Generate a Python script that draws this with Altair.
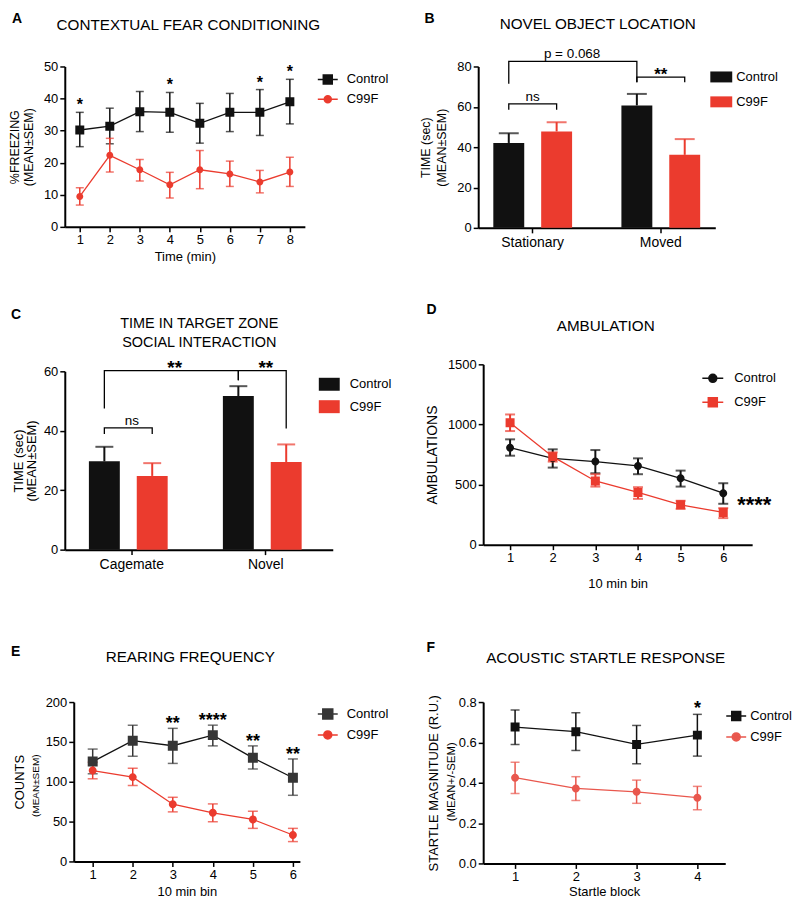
import altair as alt
import pandas as pd

FONT = "Liberation Sans"
BLACK = "#111111"
RED = "#eb3b2e"
RED_F = "#e9574d"
GRAY_E = "#363636"
GROUPS = ["Control", "C99F"]

# ---------------- data ----------------
# A: contextual fear conditioning
a_time = [1, 2, 3, 4, 5, 6, 7, 8]
a_ctrl = [30.2, 31.4, 35.9, 35.7, 32.3, 35.7, 35.7, 39.0]
a_ctrl_lo = [25.0, 25.9, 29.7, 29.5, 26.1, 29.7, 28.5, 32.1]
a_ctrl_hi = [35.7, 37.0, 42.2, 41.9, 38.5, 41.6, 42.8, 46.0]
a_c99 = [9.5, 22.3, 17.8, 13.1, 17.8, 16.5, 14.0, 17.1]
a_c99_lo = [6.8, 17.1, 14.3, 9.0, 11.9, 12.6, 10.6, 12.6]
a_c99_hi = [12.2, 27.6, 21.0, 17.0, 23.8, 20.5, 17.6, 21.7]
a_sig_x = [1, 4, 7, 8]
a_sig = ["*", "*", "*", "*"]

# B: novel object location
b_cats = ["Stationary", "Moved"]
b_ctrl = [42.1, 60.7]
b_ctrl_hi = [46.9, 66.4]
b_c99 = [47.8, 36.2]
b_c99_hi = [52.4, 44.0]
b_br_from = [("Stationary", "Control"), ("Moved", "Control"), ("Stationary", "Control")]
b_br_to = [("Stationary", "C99F"), ("Moved", "C99F"), ("Moved", "Control")]
b_br_top = [61.5, 74.7, 82.5]
b_br_left = [58.5, 72.2, 71.4]
b_br_right = [58.5, 72.2, 72.2]
b_br_label = ["ns", "**", "p = 0.068"]

# C: social interaction
c_cats = ["Cagemate", "Novel"]
c_ctrl = [29.7, 51.7]
c_ctrl_hi = [34.6, 55.0]
c_c99 = [24.8, 29.5]
c_c99_hi = [29.1, 35.4]
c_br_from = [("Cagemate", "Control"), ("Cagemate", "Control"), ("Novel", "Control")]
c_br_to = [("Cagemate", "C99F"), ("Novel", "Control"), ("Novel", "C99F")]
c_br_top = [41.0, 60.2, 60.2]
c_br_left = [38.9, 47.5, 57.0]
c_br_right = [38.9, 57.0, 40.8]
c_br_label = ["ns", "**", "**"]

# D: ambulation
d_bin = [1, 2, 3, 4, 5, 6]
d_ctrl = [807, 718, 691, 655, 552, 428]
d_ctrl_lo = [740, 641, 594, 586, 483, 340]
d_ctrl_hi = [876, 793, 787, 718, 616, 511]
d_c99 = [1014, 732, 530, 434, 331, 268]
d_c99_lo = [945, 691, 483, 381, 298, 221]
d_c99_hi = [1083, 768, 586, 478, 365, 304]
d_sig_x = [6]
d_sig_y = [348]
d_sig = ["****"]

# E: rearing frequency
e_bin = [1, 2, 3, 4, 5, 6]
e_ctrl = [125.3, 151.5, 145.2, 158.5, 130.0, 105.0]
e_ctrl_lo = [110, 132, 123, 145, 116, 83]
e_ctrl_hi = [141, 171, 167, 171, 145, 128.6]
e_c99 = [114, 105.8, 71.8, 61, 52.7, 33.2]
e_c99_lo = [103.7, 95.4, 62.2, 49.8, 41.5, 24.9]
e_c99_hi = [124.5, 117, 80.5, 72.2, 63, 41.5]
e_sig_x = [3, 4, 5, 6]
e_sig = ["**", "****", "**", "**"]

# F: acoustic startle
f_block = [1, 2, 3, 4]
f_ctrl = [0.676, 0.653, 0.590, 0.636]
f_ctrl_lo = [0.590, 0.560, 0.494, 0.532]
f_ctrl_hi = [0.760, 0.747, 0.684, 0.739]
f_c99 = [0.425, 0.372, 0.355, 0.326]
f_c99_lo = [0.347, 0.312, 0.298, 0.266]
f_c99_hi = [0.502, 0.430, 0.413, 0.382]
f_sig_x = [4]
f_sig = ["*"]

titles = {
    "A": ["CONTEXTUAL FEAR CONDITIONING"],
    "B": ["NOVEL OBJECT LOCATION"],
    "C": ["TIME IN TARGET ZONE", "SOCIAL INTERACTION"],
    "D": ["AMBULATION"],
    "E": ["REARING FREQUENCY"],
    "F": ["ACOUSTIC STARTLE RESPONSE"],
}


# ---------------- helpers ----------------
def sq(h):
    return f"M-1,0H1M-{h},-{h}H{h}V{h}H-{h}Z"


def circ(r):
    return f"M-1,0H1M{r},0A{r},{r} 0 1,1 -{r},0A{r},{r} 0 1,1 {r},0Z"


def rect(h):
    return f"M-1,-{h}H1V{h}H-1Z"


def text_layer(text, x, y, size, weight="normal", align="center", angle=0, baseline="alphabetic"):
    kw = dict(font=FONT, fontSize=size, fontWeight=weight, align=align,
              baseline=baseline, color="black")
    if angle:
        kw["angle"] = angle
    return alt.Chart(pd.DataFrame({"t": [text]})).mark_text(**kw).encode(
        text="t:N", x=alt.value(x), y=alt.value(y))


def long_df(x, cm, clo, chi, rm, rlo, rhi):
    rows = []
    for g, m, lo, hi in [("Control", cm, clo, chi), ("C99F", rm, rlo, rhi)]:
        for xi, mi, l, h in zip(x, m, lo, hi):
            rows.append(dict(group=g, x=xi, mean=mi, lo=l, hi=h))
    return pd.DataFrame(rows)


def line_panel(df, *, colors, shapes, size, x_domain, y_domain, x_ticks, y_ticks,
               y_format, x_title, x_title_pad, y_title, y_title_size, y_title_pad,
               cap, err_w, line_w, legend_x, legend_y, legend_rowpad, legend_laboff,
               y_title_lh=14, x_range=None, y_offset=0, line_colors=None):
    xs = dict(domain=x_domain, nice=False, zero=False)
    if x_range:
        xs["range"] = x_range
    x = alt.X("x:Q", scale=alt.Scale(**xs),
              axis=alt.Axis(values=x_ticks, format="d", title=x_title,
                            titlePadding=x_title_pad))
    yk = dict(values=y_ticks, format=y_format, title=y_title,
              titleFontSize=y_title_size, titlePadding=y_title_pad,
              titleLineHeight=y_title_lh)
    if y_offset:
        yk["offset"] = y_offset
    yax = alt.Axis(**yk)
    ysc = alt.Scale(domain=y_domain, nice=False, zero=False)

    def Y(f):
        return alt.Y(f"{f}:Q", scale=ysc, axis=yax)

    line_colors = line_colors or colors
    base = alt.Chart(df)
    errs, lines, pts = [], [], []
    for g, colr, lcol, shp in zip(GROUPS, colors, line_colors, shapes):
        b = base.transform_filter(alt.datum.group == g)
        errs.append(b.mark_rule(strokeWidth=err_w, color=colr).encode(
            x=x, y=Y("lo"), y2="hi:Q"))
        errs.append(b.mark_tick(orient="horizontal", size=cap, thickness=err_w,
                                color=colr).encode(x=x, y=Y("lo")))
        errs.append(b.mark_tick(orient="horizontal", size=cap, thickness=err_w,
                                color=colr).encode(x=x, y=Y("hi")))
        lines.append(b.mark_line(strokeWidth=line_w, color=lcol).encode(
            x=x, y=Y("mean")))
        pts.append(b.mark_point(filled=True, size=size, opacity=1, shape=shp,
                                color=colr, strokeWidth=0).encode(x=x, y=Y("mean")))
    cs = alt.Scale(domain=GROUPS, range=colors)
    ss = alt.Scale(domain=GROUPS, range=shapes)
    leg = alt.Legend(title=None, orient="none", legendX=legend_x, legendY=legend_y,
                     rowPadding=legend_rowpad, labelOffset=legend_laboff,
                     symbolSize=size, symbolStrokeWidth=1.5)
    legend_layer = base.transform_filter("false").mark_point(
        filled=True, size=size, opacity=1, strokeWidth=1.5).encode(
        x=x, y=Y("mean"),
        color=alt.Color("group:N", scale=cs, legend=leg),
        stroke=alt.Stroke("group:N", scale=cs, legend=leg),
        shape=alt.Shape("group:N", scale=ss, legend=leg))
    return errs + lines + pts + [legend_layer], x, Y


def sig_layer(xs, labels, df, x, Y, size, dy, y_vals=None, dx=0, align="center"):
    if y_vals is None:
        ctrl = df[df.group == "Control"].set_index("x")
        y_vals = [ctrl.loc[v, "hi"] for v in xs]
    sdf = pd.DataFrame({"x": xs, "hi": y_vals, "label": labels})
    return alt.Chart(sdf).mark_text(font=FONT, fontSize=size, fontWeight="bold", dy=dy,
                                     dx=dx, align=align, baseline="alphabetic",
                                     color="black").encode(
        x=x, y=Y("hi"), text="label:N")


def bar_panel(cats, cm, chi, rm, rhi, *, br_from, br_to, br_top, br_left, br_right,
              br_label, pad_in, pad_out, off_pad, y_domain, y_ticks, y_title,
              y_title_size, y_title_pad, y_title_lh, cap, legend_x, legend_y,
              legend_rowpad, legend_laboff, legend_h, legend_size, star_size,
              x_range=None, y_range=None, y_offset=0):
    rows = []
    for g, m, h in [("Control", cm, chi), ("C99F", rm, rhi)]:
        for c, mi, hi in zip(cats, m, h):
            rows.append(dict(cat=c, group=g, mean=mi, hi=hi))
    df = pd.DataFrame(rows)
    xs = dict(domain=cats, paddingInner=pad_in, paddingOuter=pad_out)
    if x_range:
        xs["range"] = x_range
    xaxis = alt.Axis(title=None, labelAngle=0, labelFontSize=14, labelPadding=3)
    x = alt.X("cat:N", scale=alt.Scale(**xs), axis=xaxis)
    xo = alt.XOffset("group:N", scale=alt.Scale(domain=GROUPS, paddingInner=off_pad,
                                                 paddingOuter=0))
    yk = dict(values=y_ticks, title=y_title, titleFontSize=y_title_size,
              titlePadding=y_title_pad, titleLineHeight=y_title_lh)
    if y_offset:
        yk["offset"] = y_offset
    yax = alt.Axis(**yk)
    ys = dict(domain=y_domain, nice=False, zero=True)
    if y_range:
        ys["range"] = y_range
    ysc = alt.Scale(**ys)

    def Y(f):
        return alt.Y(f"{f}:Q", scale=ysc, axis=yax)

    colors = [BLACK, RED]
    cs = alt.Scale(domain=GROUPS, range=colors)
    leg = alt.Legend(title=None, orient="none", legendX=legend_x, legendY=legend_y,
                     rowPadding=legend_rowpad, labelOffset=legend_laboff,
                     symbolType=rect(legend_h), symbolSize=legend_size,
                     symbolStrokeWidth=0)
    base = alt.Chart(df)
    bars = base.mark_bar().encode(x=x, xOffset=xo, y=Y("mean"),
                                  color=alt.Color("group:N", scale=cs, legend=leg))
    layers = [bars]
    for g, colr in zip(GROUPS, colors):
        b = base.transform_filter(alt.datum.group == g)
        layers.append(b.mark_rule(strokeWidth=2, color=colr).encode(
            x=x, xOffset=xo, y=Y("mean"), y2="hi:Q"))
        layers.append(b.mark_tick(orient="horizontal", size=cap, thickness=2,
                                  color=colr).encode(x=x, xOffset=xo, y=Y("hi")))
    brows = []
    for i, ((c1, g1), (c2, g2), top, l, r) in enumerate(
            zip(br_from, br_to, br_top, br_left, br_right)):
        brows += [dict(id=i, k=0, cat=c1, group=g1, y=l),
                  dict(id=i, k=1, cat=c1, group=g1, y=top),
                  dict(id=i, k=2, cat=c2, group=g2, y=top),
                  dict(id=i, k=3, cat=c2, group=g2, y=r)]
    layers.append(alt.Chart(pd.DataFrame(brows)).mark_line(
        color="black", strokeWidth=1.3).encode(
        x=x, xOffset=xo, y=Y("y"), detail="id:N", order="k:Q"))
    for (c1, g1), (c2, g2), top, lab in zip(br_from, br_to, br_top, br_label):
        star = lab.startswith("*")
        bp = 0.5 if c1 == c2 else 1.0
        ldf = pd.DataFrame({"cat": [c1], "y": [top], "label": [lab]})
        layers.append(alt.Chart(ldf).mark_text(
            font=FONT, fontSize=star_size if star else 13.5,
            fontWeight="bold" if star else "normal", dy=3 if star else -3,
            baseline="alphabetic", color="black").encode(
            x=alt.X("cat:N", scale=alt.Scale(**xs), axis=xaxis, bandPosition=bp),
            y=Y("y"), text="label:N"))
    return layers


def spacer(h):
    return alt.Chart(pd.DataFrame({"t": [""]})).mark_text().encode(
        text="t:N", x=alt.value(0), y=alt.value(0)).properties(width=1, height=h)


# ---------------- panel A ----------------
dfA = long_df(a_time, a_ctrl, a_ctrl_lo, a_ctrl_hi, a_c99, a_c99_lo, a_c99_hi)
layA, xA, YA = line_panel(
    dfA, colors=[BLACK, RED], shapes=[sq(0.45), circ(0.35)], size=400,
    x_domain=[0.5, 8.5], y_domain=[0, 50], x_ticks=a_time, y_ticks=[0, 10, 20, 30, 40, 50],
    y_format="d", x_title="Time (min)", x_title_pad=4,
    y_title=["%FREEZING", "(MEAN±SEM)"], y_title_size=12.5, y_title_pad=8, y_title_lh=14,
    cap=8, err_w=1.5, line_w=1.3, legend_x=253, legend_y=2, legend_rowpad=1,
    legend_laboff=8)
layA.append(sig_layer(a_sig_x, a_sig, dfA, xA, YA, 16, -2))
layA += [text_layer("A", -53, -44, 14, "bold", "left"),
         text_layer(titles["A"][0], 124, -37, 15.3)]
panelA = alt.layer(*layA).properties(width=241, height=161)

# ---------------- panel B ----------------
layB = bar_panel(
    b_cats, b_ctrl, b_ctrl_hi, b_c99, b_c99_hi,
    br_from=b_br_from, br_to=b_br_to, br_top=b_br_top, br_left=b_br_left,
    br_right=b_br_right, br_label=b_br_label, pad_in=0.385, pad_out=0.118, off_pad=0.354,
    y_domain=[0, 80], y_ticks=[0, 20, 40, 60, 80], y_title=["TIME (sec)", "(MEAN±SEM)"],
    y_title_size=12.5, y_title_pad=8, y_title_lh=16, cap=20, legend_x=228,
    legend_y=-0.5, legend_rowpad=7, legend_laboff=4, legend_h=0.5, legend_size=484,
    star_size=17, x_range=[-5, 233], y_offset=5)
layB += [text_layer("B", -59, -44, 14, "bold", "left"),
         text_layer(titles["B"][0], 115, -38, 15.3)]
panelB = alt.layer(*layB).properties(width=238, height=162)

# ---------------- panel C ----------------
layC = bar_panel(
    c_cats, c_ctrl, c_ctrl_hi, c_c99, c_c99_hi,
    br_from=c_br_from, br_to=c_br_to, br_top=c_br_top, br_left=c_br_left,
    br_right=c_br_right, br_label=c_br_label, pad_in=0.36, pad_out=0.18, off_pad=0.28,
    y_domain=[0, 60], y_ticks=[0, 20, 40, 60], y_title=["TIME (sec)", "(MEAN±SEM)"],
    y_title_size=13, y_title_pad=5, y_title_lh=13, cap=18, legend_x=255,
    legend_y=9.5, legend_rowpad=4.5, legend_laboff=10, legend_h=0.62, legend_size=441,
    star_size=19, y_range=[186, 7])
layC += [text_layer("C", -54, -46, 14, "bold", "left"),
         text_layer(titles["C"][0], 135, -36, 14.5),
         text_layer(titles["C"][1], 135, -17, 14.5)]
panelC = alt.layer(*layC).properties(width=269, height=186)

# ---------------- panel D ----------------
dfD = long_df(d_bin, d_ctrl, d_ctrl_lo, d_ctrl_hi, d_c99, d_c99_lo, d_c99_hi)
layD, xD, YD = line_panel(
    dfD, colors=[BLACK, RED], shapes=[circ(0.38), sq(0.43)], size=441,
    x_domain=[0.369, 6.678], y_domain=[0, 1500], x_ticks=d_bin,
    y_ticks=[0, 500, 1000, 1500], y_format="d", x_title="10 min bin", x_title_pad=13,
    y_title="AMBULATIONS", y_title_size=14, y_title_pad=8,
    cap=10, err_w=2, line_w=1.3, legend_x=219, legend_y=2.5, legend_rowpad=5,
    legend_laboff=10)
layD.append(sig_layer(d_sig_x, d_sig, dfD, xD, YD, 22, 9, y_vals=d_sig_y, dx=14,
                      align="left"))
layD += [text_layer("D", -57, -51, 14, "bold", "left"),
         text_layer(titles["D"][0], 123, -33, 15.3)]
panelD = alt.layer(*layD).properties(width=270, height=181)

# ---------------- panel E ----------------
dfE = long_df(e_bin, e_ctrl, e_ctrl_lo, e_ctrl_hi, e_c99, e_c99_lo, e_c99_hi)
layE, xE, YE = line_panel(
    dfE, colors=[GRAY_E, RED], shapes=[sq(0.5), circ(0.4)], size=400,
    x_domain=[0.527, 6.174], y_domain=[0, 200], x_ticks=e_bin,
    y_ticks=[0, 50, 100, 150, 200], y_format="d", x_title="10 min bin", x_title_pad=4,
    y_title="COUNTS", y_title_size=13, y_title_pad=19,
    cap=10, err_w=1.5, line_w=1.3, legend_x=253, legend_y=1, legend_rowpad=2,
    legend_laboff=8, x_range=[9, 236], y_offset=-9, line_colors=[BLACK, RED])
layE.append(sig_layer(e_sig_x, e_sig, dfE, xE, YE, 18, 1))
layE += [text_layer("E", -54, -46, 14, "bold", "left"),
         text_layer(titles["E"][0], 126, -40, 15.3),
         text_layer("(MEAN±SEM)", -29, 84, 10, angle=270, baseline="middle")]
panelE = alt.layer(*layE).properties(width=236, height=160)

# ---------------- panel F ----------------
dfF = long_df(f_block, f_ctrl, f_ctrl_lo, f_ctrl_hi, f_c99, f_c99_lo, f_c99_hi)
layF, xF, YF = line_panel(
    dfF, colors=[BLACK, RED_F], shapes=[sq(0.45), circ(0.4)], size=400,
    x_domain=[0.475, 4.459], y_domain=[0, 0.8], x_ticks=f_block,
    y_ticks=[0, 0.2, 0.4, 0.6, 0.8], y_format=".1f", x_title="Startle block",
    x_title_pad=2, y_title="STARTLE MAGNITUDE (R.U.)", y_title_size=13, y_title_pad=18,
    cap=9, err_w=1.5, line_w=1.3, legend_x=243, legend_y=3, legend_rowpad=2,
    legend_laboff=3)
layF.append(sig_layer(f_sig_x, f_sig, dfF, xF, YF, 18, 0))
layF += [text_layer("F", -57, -50, 14, "bold", "left"),
         text_layer(titles["F"][0], 123, -39, 15.3),
         text_layer("(MEAN+/-SEM)", -31, 80, 11.5, angle=270, baseline="middle")]
panelF = alt.layer(*layF).properties(width=243, height=162)

chart = alt.concat(
    panelA, panelB, spacer(137), spacer(137), panelC, panelD, spacer(153), spacer(153),
    panelE, panelF,
    columns=2, spacing={"row": 0, "column": 151}, bounds="flush", align="each",
).resolve_scale(
    color="independent", stroke="independent", shape="independent"
).resolve_legend(
    color="independent", stroke="independent", shape="independent"
).properties(padding={"left": 0, "top": 2, "right": 0, "bottom": 0}).configure_view(
    stroke=None
).configure_axis(
    domainColor="black", domainWidth=2, tickColor="black", tickWidth=1.5, tickSize=5,
    labelColor="black", labelFont=FONT, labelFontSize=13, labelPadding=2,
    titleColor="black", titleFont=FONT, titleFontSize=13, titleFontWeight="normal",
    grid=False,
).configure_legend(
    labelFont=FONT, labelFontSize=13, labelColor="black", padding=0,
)

chart.save("out.html", embed_options={"renderer": "svg", "actions": False})
